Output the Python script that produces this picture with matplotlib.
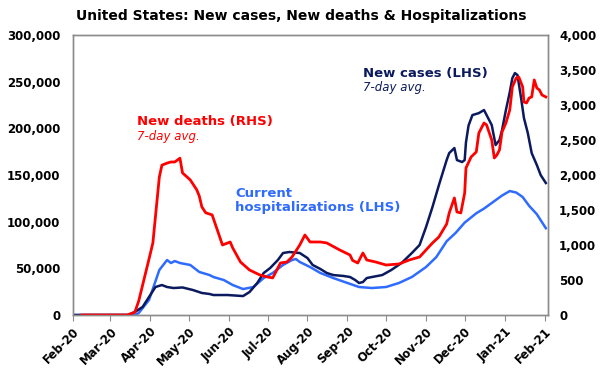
import numpy as np
import pandas as pd
import matplotlib
matplotlib.use("Agg")
import matplotlib.pyplot as plt
import matplotlib.dates as mdates
from matplotlib.ticker import FuncFormatter

# new deaths, 7-day avg (RHS)
death_dates = ["2020-02-08", "2020-03-14", "2020-03-20", "2020-03-23", "2020-03-31", "2020-04-03",
               "2020-04-08", "2020-04-10", "2020-04-14", "2020-04-17", "2020-04-20", "2020-04-24",
               "2020-04-26", "2020-05-02", "2020-05-07", "2020-05-09", "2020-05-11", "2020-05-14",
               "2020-05-19", "2020-05-23", "2020-05-27", "2020-06-02", "2020-06-04", "2020-06-10",
               "2020-06-17", "2020-06-25", "2020-07-01", "2020-07-05", "2020-07-07", "2020-07-11",
               "2020-07-16", "2020-07-20", "2020-07-26", "2020-07-30", "2020-08-03", "2020-08-11",
               "2020-08-16", "2020-08-26", "2020-09-03", "2020-09-05", "2020-09-09", "2020-09-13",
               "2020-09-16", "2020-09-23", "2020-10-01", "2020-10-11", "2020-10-19", "2020-10-27",
               "2020-11-01", "2020-11-06", "2020-11-11", "2020-11-17", "2020-11-19", "2020-11-23",
               "2020-11-25", "2020-11-28", "2020-12-01", "2020-12-02", "2020-12-06", "2020-12-10",
               "2020-12-12", "2020-12-16", "2020-12-18", "2020-12-22", "2020-12-24", "2020-12-26",
               "2020-12-28", "2020-12-30", "2021-01-02", "2021-01-05", "2021-01-07", "2021-01-10",
               "2021-01-12", "2021-01-15", "2021-01-16", "2021-01-18", "2021-01-20", "2021-01-22",
               "2021-01-24", "2021-01-26", "2021-01-28", "2021-01-30", "2021-02-02"]
deaths = [0, 0, 40, 200, 800, 1030,
          1970, 2140, 2170, 2186, 2186, 2240,
          2030, 1930, 1790, 1700, 1545, 1460,
          1430, 1215, 1000, 1043, 957, 757,
          643, 572, 543, 530, 600, 743,
          757, 829, 1000, 1143, 1043, 1043,
          1029, 929, 857, 780, 743, 886,
          786, 757, 714, 729, 786, 829,
          929, 1029, 1115, 1300, 1458, 1672,
          1472, 1458, 1743, 2100, 2258, 2330,
          2600, 2743, 2715, 2500, 2243, 2286,
          2358, 2615, 2743, 2930, 3258, 3386,
          3400, 3258, 3043, 3029, 3100, 3115,
          3358, 3243, 3215, 3143, 3115]

# new cases, 7-day avg (LHS)
case_dates = ["2020-02-01", "2020-03-15", "2020-03-20", "2020-03-26", "2020-03-31", "2020-04-05",
              "2020-04-10", "2020-04-14", "2020-04-19", "2020-04-26", "2020-05-04", "2020-05-11",
              "2020-05-17", "2020-05-20", "2020-05-31", "2020-06-12", "2020-06-17", "2020-06-23",
              "2020-06-28", "2020-07-03", "2020-07-09", "2020-07-13", "2020-07-18", "2020-07-26",
              "2020-08-01", "2020-08-05", "2020-08-11", "2020-08-16", "2020-08-21", "2020-08-29",
              "2020-09-03", "2020-09-07", "2020-09-10", "2020-09-13", "2020-09-16", "2020-09-20",
              "2020-09-28", "2020-10-05", "2020-10-13", "2020-10-21", "2020-10-27", "2020-11-01",
              "2020-11-06", "2020-11-11", "2020-11-17", "2020-11-19", "2020-11-23", "2020-11-25",
              "2020-11-29", "2020-12-01", "2020-12-02", "2020-12-04", "2020-12-07", "2020-12-12",
              "2020-12-16", "2020-12-18", "2020-12-22", "2020-12-25", "2020-12-28", "2020-12-30",
              "2021-01-02", "2021-01-05", "2021-01-07", "2021-01-09", "2021-01-11", "2021-01-14",
              "2021-01-16", "2021-01-19", "2021-01-22", "2021-01-26", "2021-01-29", "2021-02-02"]
cases = [0, 0, 3200, 8600, 19300, 30000,
         32100, 30000, 28900, 29500, 26800, 23600,
         22500, 21400, 21400, 20300, 24600, 34300,
         45000, 50300, 58900, 66400, 67500, 66400,
         61000, 53600, 49300, 45000, 42800, 41800,
         40700, 37500, 34300, 35300, 39600, 40700,
         42800, 48200, 55700, 66400, 75000, 94200,
         115700, 139200, 166000, 173500, 178900, 166000,
         163900, 166000, 185000, 203000, 214200, 216300,
         219600, 214200, 203500, 182100, 187400, 198100,
         219600, 238800, 253800, 259200, 257000, 230300,
         211000, 194900, 173500, 160700, 149900, 141400]

# current hospitalizations (LHS)
hosp_dates = ["2020-02-01", "2020-03-20", "2020-03-23", "2020-03-31", "2020-04-04", "2020-04-08",
              "2020-04-14", "2020-04-17", "2020-04-20", "2020-04-24", "2020-05-02", "2020-05-09",
              "2020-05-17", "2020-05-20", "2020-05-28", "2020-06-04", "2020-06-12", "2020-06-20",
              "2020-06-28", "2020-07-05", "2020-07-13", "2020-07-20", "2020-07-23", "2020-07-26",
              "2020-08-03", "2020-08-11", "2020-08-21", "2020-09-01", "2020-09-10", "2020-09-20",
              "2020-10-01", "2020-10-11", "2020-10-21", "2020-11-01", "2020-11-09", "2020-11-17",
              "2020-11-24", "2020-12-01", "2020-12-10", "2020-12-16", "2020-12-22", "2020-12-30",
              "2021-01-05", "2021-01-10", "2021-01-15", "2021-01-20", "2021-01-26", "2021-02-02"]
hosp = [0, 0, 2100, 16100, 32100, 48200,
        58900, 55700, 57800, 55700, 53600, 46100,
        42800, 40700, 37500, 32100, 27800, 30000,
        39600, 45000, 53600, 58900, 60000, 56800,
        51400, 45000, 39600, 34300, 30000, 28900,
        30000, 34300, 40700, 51400, 62100, 79000,
        88000, 99000, 109000, 114000, 120000, 128000,
        132800, 131200, 126400, 117000, 108000, 93000]

left_ticks = [0, 50000, 100000, 150000, 200000, 250000, 300000]
right_ticks = [0, 500, 1000, 1500, 2000, 2500, 3000, 3500, 4000]

red = "#FF0000"
navy = "#0B1A5E"
blue = "#2F6BFF"
W, H = 602, 368

fig = plt.figure(figsize=(W / 100, H / 100), dpi=100)
ax = fig.add_axes([73 / W, 1 - 315 / H, (548 - 73) / W, (315 - 35) / H])
ax2 = ax.twinx()

ax.plot(pd.to_datetime(hosp_dates), hosp, color=blue, lw=1.8)
ax.plot(pd.to_datetime(case_dates), cases, color=navy, lw=1.8)
ax2.plot(pd.to_datetime(death_dates), deaths, color=red, lw=2.0)

ax.set_xlim(pd.Timestamp("2020-02-01"), pd.Timestamp("2021-02-03 16:00"))
ax.set_ylim(0, 300000)
ax2.set_ylim(0, 4000)
ax.set_yticks(left_ticks)
ax2.set_yticks(right_ticks)
comma = FuncFormatter(lambda v, p: f"{int(v):,}")
ax.yaxis.set_major_formatter(comma)
ax2.yaxis.set_major_formatter(comma)

ax.xaxis.set_major_locator(mdates.MonthLocator())
ax.xaxis.set_major_formatter(mdates.DateFormatter("%b-%y"))
for lab in ax.get_xticklabels():
    lab.set_rotation(45)
    lab.set_ha("right")
    lab.set_rotation_mode("anchor")

for a in (ax, ax2):
    for s in a.spines.values():
        s.set_color("#8C8C8C")
        s.set_linewidth(1.0)
    a.tick_params(axis="y", length=0, labelsize=8.5, pad=9)
    for lab in a.get_yticklabels():
        lab.set_fontweight("bold")
ax2.tick_params(axis="y", pad=8)
ax.tick_params(axis="x", length=4, color="#8C8C8C", labelsize=8.5, pad=3)
for lab in ax.get_xticklabels():
    lab.set_fontweight("bold")

fig.text(0.5, 1 - 16 / H, "United States: New cases, New deaths & Hospitalizations",
         ha="center", va="center", fontsize=10, fontweight="bold")

fig.text(137 / W, 1 - 122 / H, "New deaths (RHS)", color=red, fontsize=9.5,
         fontweight="bold", va="center")
fig.text(137 / W, 1 - 137 / H, "7-day avg.", color=red, fontsize=8.5,
         style="italic", va="center")
fig.text(235 / W, 1 - 193 / H, "Current", color=blue, fontsize=9.5,
         fontweight="bold", va="center")
fig.text(235 / W, 1 - 208 / H, "hospitalizations (LHS)", color=blue, fontsize=9.5,
         fontweight="bold", va="center")
fig.text(363 / W, 1 - 73 / H, "New cases (LHS)", color=navy, fontsize=9.5,
         fontweight="bold", va="center")
fig.text(363 / W, 1 - 88 / H, "7-day avg.", color=navy, fontsize=8.5,
         style="italic", va="center")

fig.savefig("out.png", dpi=100)
